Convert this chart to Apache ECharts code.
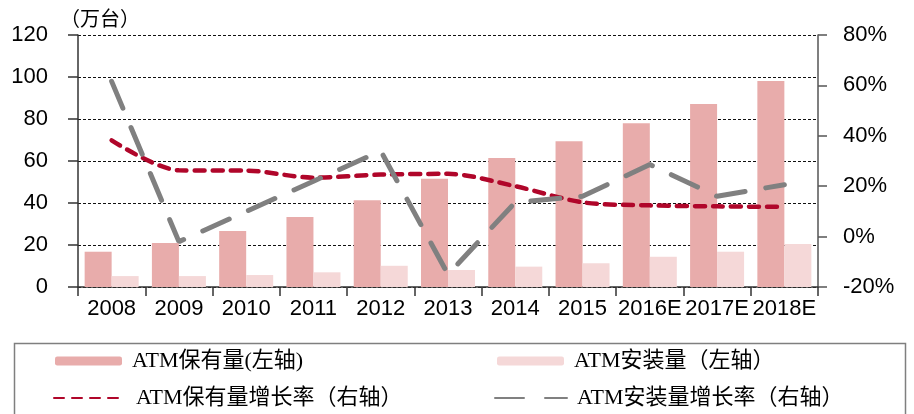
<!DOCTYPE html>
<html>
<head>
<meta charset="utf-8">
<script src="https://cdn.jsdelivr.net/npm/echarts@6/dist/echarts.min.js"></script>
<style>
  html, body { margin: 0; padding: 0; background: #fff; }
  #chart { width: 914px; height: 414px; }
</style>
</head>
<body>
<div id="chart"></div>
<script>
// categories and values
const years = ['2008', '2009', '2010', '2011', '2012', '2013', '2014', '2015', '2016E', '2017E', '2018E'];
const holding = [16.8, 21, 26.7, 33.3, 41.3, 51.6, 61.4, 69.4, 78, 87.1, 98.1];      // 万台
const installed = [5.2, 5.2, 5.7, 7, 10.1, 8.1, 9.7, 11.3, 14.4, 16.8, 20.5];         // 万台
const holdingGrowth = [38.2, 26.3, 26.2, 23.4, 24.6, 24.9, 20, 13.6, 12.4, 12, 11.8]; // %
const installGrowth = [61.6, -2, 10, 22, 34, -15, 13.6, 16, 28.6, 16, 20.6];          // %
const leftTicks = { min: 0, max: 120, interval: 20 };
const rightTicks = { min: -20, max: 80, interval: 20 };

const names = ['ATM保有量(左轴)', 'ATM安装量（左轴）', 'ATM保有量增长率（右轴）', 'ATM安装量增长率（右轴）'];

const axisFont = { fontFamily: 'Liberation Sans, Arial, sans-serif', fontSize: 22, color: '#000' };
const legendFont = { fontFamily: 'Liberation Serif, Noto Sans CJK SC, serif', fontSize: 22, color: '#000', padding: [0, 0, 0, 5] };

const chart = echarts.init(document.getElementById('chart'), null, { renderer: 'canvas' });

// one legend per entry so each can sit where the reference puts it
const legendAt = (name, left, top, w, h, hideSymbol) => {
  const lg = {
    data: [name], left, top, padding: 0, itemWidth: w, itemHeight: h,
    textStyle: legendFont, selectedMode: false
  };
  if (hideSymbol) lg.itemStyle = { opacity: 0 };
  return lg;
};

chart.setOption({
  animation: false,
  grid: { left: 78, right: 96, top: 35, bottom: 127 },
  legend: [
    legendAt(names[0], 55, 350, 67, 9),
    legendAt(names[1], 497, 350, 67, 9),
    legendAt(names[2], 53, 387, 72, 5, true),
    legendAt(names[3], 494, 387, 72, 5, true)
  ],
  graphic: [
    { type: 'rect', left: 12, top: 341, shape: { width: 891, height: 90 },
      style: { fill: 'none', stroke: '#7f7f7f', lineWidth: 1.5 }, silent: true },
    { type: 'text', left: 60, top: 11,
      style: { text: '（万台）', font: '20px "Liberation Serif", "Noto Sans CJK SC", serif', fill: '#000' } }
  ],
  xAxis: {
    type: 'category',
    data: years,
    axisLine: { lineStyle: { color: '#333', width: 1.5 } },
    axisTick: { show: true, length: 9, alignWithLabel: false, lineStyle: { color: '#333', width: 1.5 } },
    axisLabel: Object.assign({ interval: 0, margin: 11 }, axisFont),
    splitLine: { show: false }
  },
  yAxis: [
    {
      type: 'value',
      min: leftTicks.min, max: leftTicks.max, interval: leftTicks.interval,
      axisLine: { show: true, lineStyle: { color: '#333', width: 1.5 } },
      axisTick: { show: true, length: 10, lineStyle: { color: '#333', width: 1.5 } },
      axisLabel: Object.assign({ margin: 30 }, axisFont),
      splitLine: { show: true, lineStyle: { color: '#111', width: 1, type: [3, 2] } }
    },
    {
      type: 'value',
      min: rightTicks.min, max: rightTicks.max, interval: rightTicks.interval,
      axisLine: { show: true, lineStyle: { color: '#555', width: 1.5 } },
      axisTick: { show: true, length: 9, lineStyle: { color: '#555', width: 1.5 } },
      axisLabel: Object.assign({ margin: 25, formatter: '{value}%' }, axisFont),
      splitLine: { show: false }
    }
  ],
  series: [
    {
      name: names[0], type: 'bar', yAxisIndex: 0, data: holding,
      barWidth: 27, barGap: '0%',
      itemStyle: { color: '#E8ACAB' }
    },
    {
      name: names[1], type: 'bar', yAxisIndex: 0, data: installed,
      barWidth: 27, barGap: '0%',
      itemStyle: { color: '#F5D8D8' }
    },
    {
      name: names[2], type: 'line', yAxisIndex: 1, data: holdingGrowth,
      symbol: 'none', smooth: 0.3,
      itemStyle: { color: '#B0062A' },
      lineStyle: { color: '#B0062A', width: 4.5, type: [10, 8], cap: 'round' }
    },
    {
      name: names[3], type: 'line', yAxisIndex: 1, data: installGrowth,
      symbol: 'none',
      itemStyle: { color: '#808080' },
      lineStyle: { color: '#808080', width: 5, type: [29, 21], cap: 'round' }
    }
  ]
});
</script>
</body>
</html>
